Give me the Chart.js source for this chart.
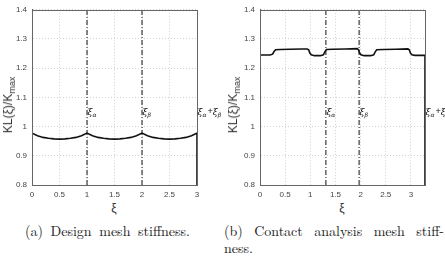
<!DOCTYPE html>
<html><head><meta charset="utf-8">
<script src="https://cdn.jsdelivr.net/npm/chart.js@4.4.1/dist/chart.umd.min.js"></script>
<style>
html,body{margin:0;padding:0;background:#fff;width:445px;height:256px;overflow:hidden;position:relative}
.cv{position:absolute;top:0}
.t{position:absolute;white-space:nowrap;color:#111}
.ax{font-family:"Liberation Sans",Arial,sans-serif;font-size:12px;color:#333}
.yl{font-family:"Liberation Sans",Arial,sans-serif;font-size:12px;color:#333;transform:translate(-50%,-50%) rotate(-90deg);position:absolute;white-space:nowrap}
.yl sub{font-size:9px;vertical-align:-3px}
.cap{font-family:"Latin Modern Roman","Liberation Serif","DejaVu Serif",serif;font-size:14px;line-height:16px;color:#1a1a1a}
</style></head><body>
<div class="cv" style="left:0;width:222px;height:200px"><canvas id="c1"></canvas></div>
<div class="cv" style="left:222px;width:223px;height:200px"><canvas id="c2"></canvas></div>
<div class="t ax" style="left:114px;top:208px;transform:translate(-50%,-50%)">ξ</div>
<div class="t ax" style="left:342px;top:208px;transform:translate(-50%,-50%)">ξ</div>
<div class="yl" style="left:9px;top:105px">KL(ξ)/K<sub>max</sub></div>
<div class="yl" style="left:234px;top:105px">KL(ξ)/K<sub>max</sub></div>
<div class="t cap" style="left:25px;width:165px;top:222px;text-align:justify;text-align-last:justify;white-space:normal">(a) Design mesh stiffness.</div>
<div class="t cap" style="left:224px;width:220px;top:222px;text-align:justify;text-align-last:justify;white-space:normal">(b) Contact analysis mesh stiff-</div>
<div class="t cap" style="left:224px;top:239px">ness.</div>
<script>
// ---- data ----
const yTicks = [0.8, 0.9, 1, 1.1, 1.2, 1.3, 1.4];
const xTicks = [0, 0.5, 1, 1.5, 2, 2.5, 3];

const designXi = [0, 0, 0.1, 0.2, 0.3, 0.4, 0.5, 0.6, 0.7, 0.8, 0.9,
  1, 1.1, 1.2, 1.3, 1.4, 1.5, 1.6, 1.7, 1.8, 1.9,
  2, 2.1, 2.2, 2.3, 2.4, 2.5, 2.6, 2.7, 2.8, 2.9, 3, 3];
const designK = [0.8, 0.978, 0.969, 0.963, 0.960, 0.958, 0.957, 0.958, 0.960, 0.963, 0.969,
  0.978, 0.969, 0.963, 0.960, 0.958, 0.957, 0.958, 0.960, 0.963, 0.969,
  0.978, 0.969, 0.963, 0.960, 0.958, 0.957, 0.958, 0.960, 0.963, 0.969, 0.978, 0.8];
const designMarks = [1, 2];
const markLabels = [["α"], ["β"], ["α", "β"]];
const designLabelXi = [1, 2, 3];

const contactXi = [0, 0, 0.2, 0.25, 0.28, 0.31, 0.4, 0.6, 0.85, 0.94, 0.97, 0.99, 1.02, 1.08, 1.2, 1.26, 1.29, 1.32,
  1.45, 1.7, 1.93, 1.96, 1.98, 2.01, 2.07, 2.2, 2.26, 2.29, 2.32, 2.45, 2.7, 2.94, 2.97, 2.99, 3.02, 3.08, 3.28, 3.28];
const contactK = [0.8, 1.245, 1.245, 1.248, 1.257, 1.263, 1.264, 1.265, 1.266, 1.266, 1.262, 1.252, 1.246, 1.243, 1.243, 1.246, 1.256, 1.264,
  1.265, 1.266, 1.267, 1.263, 1.252, 1.246, 1.243, 1.243, 1.246, 1.256, 1.263, 1.264, 1.265, 1.266, 1.262, 1.252, 1.246, 1.244, 1.244, 0.8];
const contactMarks = [1.31, 1.97];
const contactLabelXi = [1.31, 1.97, 3.28];
const contactXMax = 3.28;
const labelLevel = 1.052;

// ---- helpers ----
function pts(xs, ys) { return xs.map((x, i) => ({x: x, y: ys[i]})); }
function markSet(x) {
  return {data: [{x: x, y: 0.8}, {x: x, y: 1.4}], borderColor: '#111', borderWidth: 1,
    borderDash: [5, 2, 1, 2], pointRadius: 0, tension: 0};
}
const boxPlugin = {
  id: 'box',
  afterDraw(chart, args, opts) {
    const a = chart.chartArea, ctx = chart.ctx;
    ctx.save();
    ctx.strokeStyle = '#666'; ctx.lineWidth = 1;
    ctx.strokeRect(Math.round(a.left) + 0.5, Math.round(a.top) + 0.5, Math.round(a.right - a.left), Math.round(a.bottom - a.top));
    const xs = chart.scales.x, ys = chart.scales.y;
    const labs = opts.labels, lx = opts.xi;
    ctx.fillStyle = '#111';
    ctx.textBaseline = 'alphabetic';
    for (let i = 0; i < labs.length; i++) {
      let px = xs.getPixelForValue(lx[i]) + 0.5;
      const py = ys.getPixelForValue(labelLevel) + 4;
      const parts = labs[i];
      for (let j = 0; j < parts.length; j++) {
        if (j > 0) { ctx.font = '9px "Liberation Sans", sans-serif'; ctx.fillText('+', px + 1, py - 1); px += ctx.measureText('+').width + 1; }
        ctx.font = 'italic 9px "DejaVu Serif", serif';
        ctx.fillText('ξ', px, py); px += ctx.measureText('ξ').width;
        ctx.font = 'italic 6px "DejaVu Serif", serif';
        ctx.fillText(parts[j], px, py + 2); px += ctx.measureText(parts[j]).width;
      }
    }
    ctx.restore();
  }
};
function makeChart(id, xi, k, marks, labels, lxi, xmax, yw, padRight) {
  const ds = [{data: pts(xi, k), borderColor: '#111', borderWidth: 1.6, pointRadius: 0, tension: 0}];
  marks.forEach(m => ds.push(markSet(m)));
  return new Chart(document.getElementById(id), {
    type: 'line',
    data: {datasets: ds},
    plugins: [boxPlugin],
    options: {
      responsive: true, maintainAspectRatio: false, animation: false,
      events: [],
      layout: {padding: {top: 9, right: padRight, left: 0, bottom: 0}},
      plugins: {legend: {display: false}, tooltip: {enabled: false}, box: {labels: labels, xi: lxi}},
      scales: {
        x: {type: 'linear', min: 0, max: xmax,
          afterFit(s) { s.height = 15; },
          afterBuildTicks(s) { s.ticks = xTicks.map(v => ({value: v})); },
          ticks: {font: {size: 8, family: '"Liberation Sans", Arial, sans-serif'}, color: '#444', padding: 5, maxRotation: 0,
            callback: v => String(v)},
          grid: {color: '#d0d0d0', lineWidth: 1, drawTicks: false},
          border: {display: true, color: '#666', dash: [1, 2]}},
        y: {type: 'linear', min: 0.8, max: 1.4,
          afterFit(s) { s.width = yw; },
          afterBuildTicks(s) { s.ticks = yTicks.map(v => ({value: v})); },
          ticks: {font: {size: 8, family: '"Liberation Sans", Arial, sans-serif'}, color: '#444', padding: 5,
            callback: v => String(v)},
          grid: {color: '#d0d0d0', lineWidth: 1, drawTicks: false},
          border: {display: true, color: '#666', dash: [1, 2]}}
      }
    }
  });
}
makeChart('c1', designXi, designK, designMarks, markLabels, designLabelXi, 3, 32, 25);
makeChart('c2', contactXi, contactK, contactMarks, markLabels, contactLabelXi, contactXMax, 38, 20);
</script>
</body></html>
